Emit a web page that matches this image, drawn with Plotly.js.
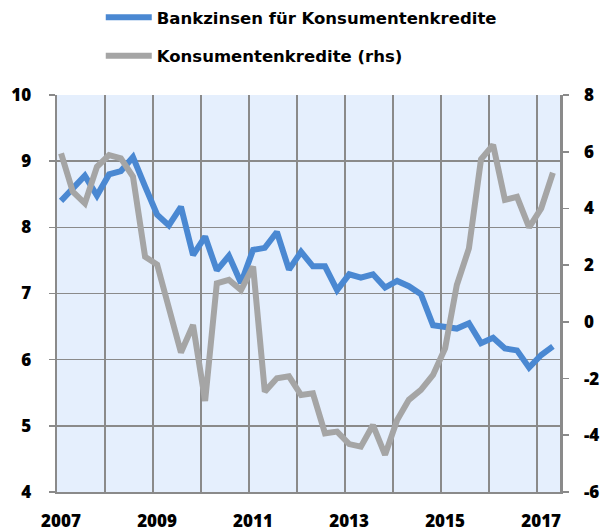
<!DOCTYPE html>
<html>
<head>
<meta charset="utf-8">
<script src="https://cdn.plot.ly/plotly-3.0.1.min.js"></script>
<style>
html,body{margin:0;padding:0;background:#fff;}
#chart{width:607px;height:531px;}
</style>
</head>
<body>
<div id="chart"></div>
<script>
// Quarterly observations (mid-quarter month)
const quarters = [
  "2007-02","2007-05","2007-08","2007-11",
  "2008-02","2008-05","2008-08","2008-11",
  "2009-02","2009-05","2009-08","2009-11",
  "2010-02","2010-05","2010-08","2010-11",
  "2011-02","2011-05","2011-08","2011-11",
  "2012-02","2012-05","2012-08","2012-11",
  "2013-02","2013-05","2013-08","2013-11",
  "2014-02","2014-05","2014-08","2014-11",
  "2015-02","2015-05","2015-08","2015-11",
  "2016-02","2016-05","2016-08","2016-11",
  "2017-02","2017-05"
];
// Bankzinsen für Konsumentenkredite (left axis, %)
const bankzinsen = [
  8.40, 8.58, 8.78, 8.48, 8.80, 8.85, 9.06, 8.62,
  8.19, 8.03, 8.31, 7.58, 7.86, 7.35, 7.57, 7.16,
  7.66, 7.69, 7.93, 7.36, 7.63, 7.41, 7.41, 7.05,
  7.29, 7.24, 7.29, 7.09, 7.19, 7.11, 6.99, 6.52,
  6.49, 6.47, 6.55, 6.25, 6.33, 6.17, 6.14, 5.88,
  6.07, 6.20
];
// Konsumentenkredite (right axis, % yoy)
const kredite = [
  5.94, 4.59, 4.18, 5.47, 5.88, 5.77, 5.12, 2.30,
  2.02, 0.42, -1.08, -0.11, -2.79, 1.36, 1.48, 1.12,
  1.95, -2.46, -1.99, -1.92, -2.58, -2.52, -3.93, -3.87,
  -4.31, -4.40, -3.64, -4.69, -3.46, -2.75, -2.40, -1.87,
  -0.93, 1.30, 2.59, 5.73, 6.24, 4.30, 4.41, 3.33,
  4.00, 5.26
];
const yearTicks = ["2007","2008","2009","2010","2011","2012","2013","2014","2015","2016","2017"];
const yearLabels = ["2007","","2009","","2011","","2013","","2015","","2017"];
const leftTicks = [4, 5, 6, 7, 8, 9, 10];
const rightTicks = [-6, -4, -2, 0, 2, 4, 6, 8];
const rightLabels = ["-6", "-4", "-2", "0", "2", "4", "6", "8"];
const seriesNames = ["Bankzinsen für Konsumentenkredite","Konsumentenkredite (rhs)"];

const FONT = "Open Sans, sans-serif";
const LFONT = "DejaVu Sans, sans-serif";
const gridCol = "#8a8a8a";
const tickFont = {family: FONT, size: 17, weight: 800, color: "#000"};

const traces = [
  {x: quarters, y: bankzinsen, name: seriesNames[0], type: "scatter", mode: "lines",
   line: {color: "#4a88d2", width: 6}, yaxis: "y", legendgroup: "a"},
  {x: quarters, y: kredite, name: seriesNames[1], type: "scatter", mode: "lines",
   line: {color: "#a5a5a5", width: 6}, yaxis: "y2", legendgroup: "b"}
];

const layout = {
  width: 607, height: 531,
  margin: {l: 57, r: 47, t: 95, b: 39},
  paper_bgcolor: "#ffffff",
  plot_bgcolor: "#e5effd",
  font: {family: FONT, size: 17, color: "#000"},
  showlegend: true,
  legend: {
    orientation: "v", x: 0.087, xref: "paper", y: 1.0, yref: "container", yanchor: "top",
    xanchor: "left",
    font: {family: LFONT, size: 16.5, color: "#000", weight: "bold"},
    bgcolor: "rgba(0,0,0,0)", tracegroupgap: 14, itemwidth: 46
  },
  xaxis: {
    type: "date",
    range: ["2007-01-01", "2017-06-24"],
    tickmode: "array",
    tickvals: yearTicks.map(y => y + "-01-01"),
    ticktext: yearLabels,
    showgrid: true, gridcolor: gridCol, gridwidth: 1.6,
    showline: true, linecolor: gridCol, linewidth: 2,
    ticks: "", ticklabelshift: 4, ticklabelstandoff: 13,
    tickfont: tickFont,
    zeroline: false, fixedrange: true
  },
  yaxis: {
    range: [4, 10], tickmode: "array", tickvals: leftTicks,
    showgrid: true, gridcolor: gridCol, gridwidth: 1.6,
    showline: true, linecolor: gridCol, linewidth: 2.5,
    ticks: "outside", ticklen: 6, tickcolor: gridCol, tickwidth: 1.6,
    ticklabelstandoff: 14,
    tickfont: tickFont,
    zeroline: false, fixedrange: true
  },
  yaxis2: {
    overlaying: "y", side: "right",
    range: [-6, 8], tickmode: "array", tickvals: rightTicks, ticktext: rightLabels,
    showgrid: false,
    showline: true, linecolor: gridCol, linewidth: 2.5,
    ticks: "outside", ticklen: 6, tickcolor: gridCol, tickwidth: 1.6,
    ticklabelstandoff: 12,
    tickfont: tickFont,
    zeroline: false, fixedrange: true
  }
};

Plotly.newPlot("chart", traces, layout, {displayModeBar: false, staticPlot: true});
</script>
</body>
</html>
